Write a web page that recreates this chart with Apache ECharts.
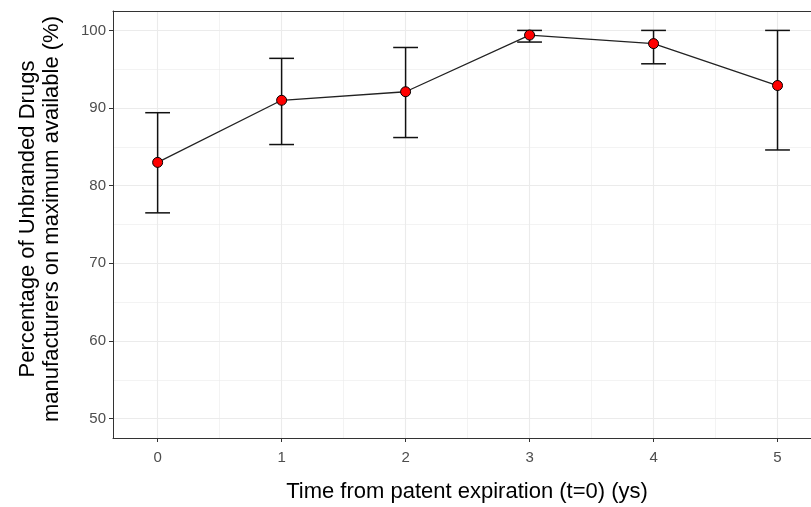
<!DOCTYPE html>
<html>
<head>
<meta charset="utf-8">
<script src="https://cdn.jsdelivr.net/npm/echarts@6/dist/echarts.min.js"></script>
<style>
  html, body { margin: 0; padding: 0; background: #fff; }
  #chart { width: 811px; height: 507px; }
</style>
</head>
<body>
<div id="chart"></div>
<script>
// values
var years = [0, 1, 2, 3, 4, 5];
var meanPct = [83.0, 91.0, 92.1, 99.4, 98.3, 92.9];
var lowerPct = [76.5, 85.3, 86.2, 98.5, 95.7, 84.6];
var upperPct = [89.4, 96.4, 97.8, 100.0, 100.0, 100.0];

var yTicks = [50, 60, 70, 80, 90, 100];
var yMinor = [55, 65, 75, 85, 95];
var xTicks = [0, 1, 2, 3, 4, 5];
var xMinor = [0.5, 1.5, 2.5, 3.5, 4.5];

var capHalf = 0.1;
var gridColor = "#ebebeb";
var frame = { color: "#333", width: 1 };

var chart = echarts.init(document.getElementById("chart"));

function gridLines(vals, key, width) {
  return vals.map(function (v) {
    var o = { lineStyle: { width: width } };
    o[key] = v;
    return o;
  });
}

var barData = years.map(function (x, i) {
  return [x, lowerPct[i], upperPct[i]];
});

chart.setOption({
  animation: false,
  textStyle: { fontFamily: "Liberation Sans, Arial, sans-serif" },
  grid: {
    left: 113,
    top: 11,
    bottom: 69,
    right: 0,
    show: false
  },
  xAxis: [
    {
      type: "value",
      min: -0.36,
      max: 5.27,
      splitLine: { show: false },
      axisLine: { show: true, onZero: false, lineStyle: frame },
      axisTick: { show: true, length: 4, customValues: xTicks, lineStyle: { color: "#333" } },
      axisLabel: { customValues: xTicks, color: "#4d4d4d", fontSize: 15, margin: 12 }
    },
    {
      // top edge of the panel
      type: "value",
      position: "top",
      min: -0.36,
      max: 5.27,
      splitLine: { show: false },
      axisLine: { show: true, onZero: false, lineStyle: frame },
      axisTick: { show: false },
      axisLabel: { show: false }
    }
  ],
  yAxis: {
    type: "value",
    min: 47.5,
    max: 102.5,
    splitLine: { show: false },
    axisLine: { show: true, onZero: false, lineStyle: frame },
    axisTick: { show: true, length: 4, customValues: yTicks, lineStyle: { color: "#333" } },
    axisLabel: { customValues: yTicks, color: "#4d4d4d", fontSize: 15, margin: 7 }
  },
  graphic: [
    {
      type: "text",
      x: 40,
      y: 219,
      rotation: Math.PI / 2,
      style: {
        text: "Percentage of Unbranded Drugs\nmanufacturers on maximum available (%)",
        fill: "#000",
        font: "22px Liberation Sans, Arial, sans-serif",
        align: "center",
        verticalAlign: "middle",
        lineHeight: 24
      }
    },
    {
      type: "text",
      x: 467,
      y: 492,
      style: {
        text: "Time from patent expiration (t=0) (ys)",
        fill: "#000",
        font: "22px Liberation Sans, Arial, sans-serif",
        align: "center",
        verticalAlign: "middle"
      }
    }
  ],
  series: [
    {
      // background grid
      type: "line",
      data: [],
      z: 0,
      silent: true,
      markLine: {
        silent: true,
        z: 0,
        symbol: "none",
        label: { show: false },
        lineStyle: { color: gridColor, type: "solid" },
        data: []
          .concat(gridLines(yMinor, "yAxis", 0.6))
          .concat(gridLines(xMinor, "xAxis", 0.6))
          .concat(gridLines(yTicks, "yAxis", 1.1))
          .concat(gridLines(xTicks, "xAxis", 1.1))
      }
    },
    {
      type: "custom",
      z: 10,
      data: barData,
      renderItem: function (params, api) {
        var x = api.value(0);
        var lo = api.coord([x, api.value(1)]);
        var hi = api.coord([x, api.value(2)]);
        var l = api.coord([x - capHalf, api.value(1)]);
        var r = api.coord([x + capHalf, api.value(1)]);
        var w = r[0] - l[0];
        var style = { stroke: "#111", lineWidth: 1.5, fill: null };
        return {
          type: "group",
          children: [
            { type: "line", shape: { x1: lo[0], y1: lo[1], x2: hi[0], y2: hi[1] }, style: style },
            { type: "line", shape: { x1: lo[0] - w / 2, y1: lo[1], x2: lo[0] + w / 2, y2: lo[1] }, style: style },
            { type: "line", shape: { x1: hi[0] - w / 2, y1: hi[1], x2: hi[0] + w / 2, y2: hi[1] }, style: style }
          ]
        };
      }
    },
    {
      type: "line",
      z: 11,
      data: years.map(function (x, i) { return [x, meanPct[i]]; }),
      symbol: "circle",
      symbolSize: 10,
      lineStyle: { color: "#222", width: 1.3 },
      itemStyle: { color: "#ff0000", borderColor: "#000", borderWidth: 1 }
    }
  ]
});
</script>
</body>
</html>
